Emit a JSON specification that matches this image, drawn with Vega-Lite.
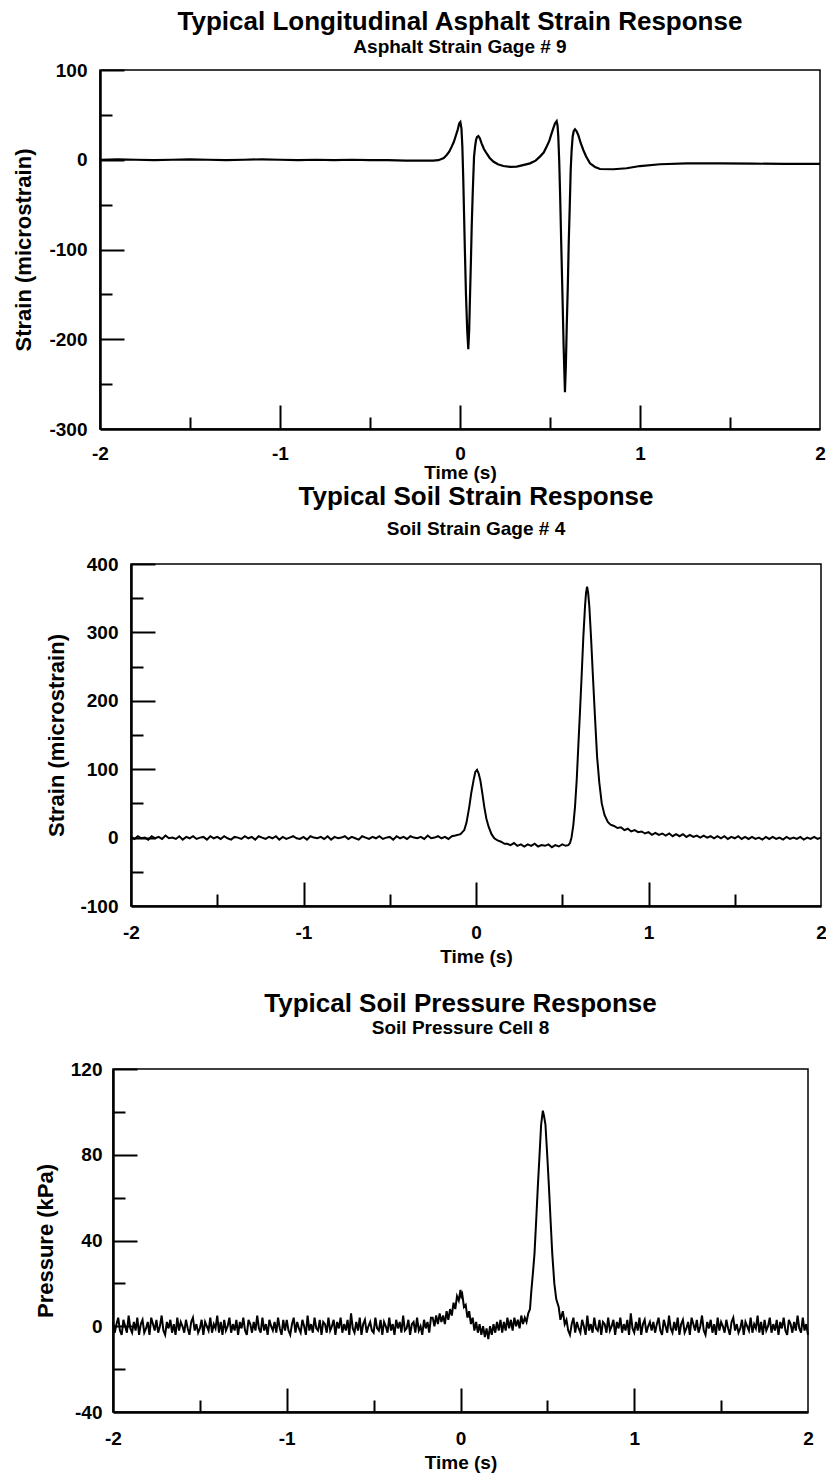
{
  "$schema": "https://vega.github.io/schema/vega-lite/v6.json",
  "padding": {"left": 0, "top": 8, "right": 0, "bottom": 0},
  "background": "white",
  "config": {
    "font": "Liberation Sans",
    "view": {"stroke": null},
    "axis": {"domainColor": "black", "domainWidth": 2.5, "tickColor": "black", "tickWidth": 2, "labelColor": "black", "labelFont": "Liberation Sans", "labelFontSize": 19, "labelFontWeight": "bold", "titleColor": "black", "titleFont": "Liberation Sans", "titleFontWeight": "bold", "titleFontSize": 19, "grid": false, "labelFlush": false, "labelOverlap": false},
    "axisY": {"titleFontSize": 22},
    "title": {"font": "Liberation Sans", "fontSize": 26, "fontWeight": "bold", "color": "black", "subtitleFont": "Liberation Sans", "subtitleFontSize": 19, "subtitleFontWeight": "bold", "subtitleColor": "black", "anchor": "middle"}
  },
  "datasets": {
    "asphalt": [
      {"t":-2,"v":0},{"t":-1.9,"v":0.5},{"t":-1.8,"v":0},{"t":-1.7,"v":-0.5},{"t":-1.6,"v":0},{"t":-1.5,"v":0.5},{"t":-1.4,"v":0},{"t":-1.3,"v":-0.5},{"t":-1.2,"v":0},{"t":-1.1,"v":0.5},{"t":-1.0,"v":0},{"t":-0.9,"v":-0.5},{"t":-0.8,"v":0},{"t":-0.7,"v":-0.5},{"t":-0.6,"v":0},{"t":-0.5,"v":-0.5},{"t":-0.4,"v":-0.5},{"t":-0.3,"v":-1},{"t":-0.2,"v":-1},{"t":-0.15,"v":-1},{"t":-0.12,"v":-0.5},{"t":-0.09,"v":2},{"t":-0.074,"v":5.3},{"t":-0.06,"v":9},{"t":-0.046,"v":14.6},{"t":-0.034,"v":20},{"t":-0.022,"v":27.6},{"t":-0.012,"v":34},{"t":-0.004,"v":40.6},{"t":0.002,"v":42},{"t":0.008,"v":35},{"t":0.013,"v":15},{"t":0.018,"v":-20},{"t":0.022,"v":-56},{"t":0.027,"v":-100},{"t":0.033,"v":-149},{"t":0.04,"v":-190},{"t":0.046,"v":-211},{"t":0.051,"v":-190},{"t":0.056,"v":-149},{"t":0.061,"v":-110},{"t":0.065,"v":-75},{"t":0.071,"v":-35},{"t":0.078,"v":3.4},{"t":0.084,"v":15},{"t":0.089,"v":22},{"t":0.095,"v":25.5},{"t":0.102,"v":26.5},{"t":0.11,"v":24},{"t":0.12,"v":18.3},{"t":0.133,"v":12},{"t":0.148,"v":7},{"t":0.165,"v":2},{"t":0.185,"v":-2},{"t":0.21,"v":-5},{"t":0.241,"v":-7},{"t":0.28,"v":-8},{"t":0.315,"v":-7.7},{"t":0.35,"v":-6},{"t":0.389,"v":-4},{"t":0.42,"v":-1},{"t":0.444,"v":3.5},{"t":0.465,"v":8},{"t":0.481,"v":14.6},{"t":0.496,"v":21},{"t":0.509,"v":29.4},{"t":0.52,"v":36},{"t":0.528,"v":40.6},{"t":0.537,"v":43},{"t":0.542,"v":38},{"t":0.546,"v":26},{"t":0.551,"v":0},{"t":0.556,"v":-37},{"t":0.562,"v":-90},{"t":0.569,"v":-149},{"t":0.576,"v":-210},{"t":0.583,"v":-259},{"t":0.588,"v":-230},{"t":0.593,"v":-186},{"t":0.599,"v":-140},{"t":0.604,"v":-93},{"t":0.61,"v":-50},{"t":0.615,"v":-11.4},{"t":0.62,"v":10},{"t":0.626,"v":26},{"t":0.632,"v":32},{"t":0.639,"v":34},{"t":0.647,"v":32},{"t":0.657,"v":27.6},{"t":0.67,"v":19},{"t":0.685,"v":10.9},{"t":0.7,"v":4},{"t":0.722,"v":-4},{"t":0.75,"v":-8},{"t":0.778,"v":-10.3},{"t":0.852,"v":-10.6},{"t":0.926,"v":-9.5},{"t":1.0,"v":-7},{"t":1.111,"v":-5},{"t":1.26,"v":-4},{"t":1.44,"v":-4},{"t":1.63,"v":-4.4},{"t":1.8,"v":-4.5},{"t":2.0,"v":-4.7}
    ],
    "soilStrain": [
      {"t":-2,"v":1},{"t":-1.98,"v":-2},{"t":-1.96,"v":2},{"t":-1.94,"v":-1},{"t":-1.92,"v":0},{"t":-1.9,"v":-3},{"t":-1.88,"v":2},{"t":-1.86,"v":-1},{"t":-1.84,"v":1},{"t":-1.82,"v":-2},
      {"t":-1.8,"v":3},{"t":-1.78,"v":-1},{"t":-1.76,"v":0},{"t":-1.74,"v":-2},{"t":-1.72,"v":2},{"t":-1.7,"v":-3},{"t":-1.68,"v":1},{"t":-1.66,"v":-1},{"t":-1.64,"v":2},{"t":-1.62,"v":-2},
      {"t":-1.6,"v":0},{"t":-1.58,"v":1},{"t":-1.56,"v":-3},{"t":-1.54,"v":2},{"t":-1.52,"v":-1},{"t":-1.5,"v":1},{"t":-1.48,"v":-2},{"t":-1.46,"v":2},{"t":-1.44,"v":-1},{"t":-1.42,"v":-3},
      {"t":-1.4,"v":1},{"t":-1.38,"v":0},{"t":-1.36,"v":-2},{"t":-1.34,"v":2},{"t":-1.32,"v":-1},{"t":-1.3,"v":1},{"t":-1.28,"v":-3},{"t":-1.26,"v":2},{"t":-1.24,"v":0},{"t":-1.22,"v":-2},
      {"t":-1.2,"v":1},{"t":-1.18,"v":-1},{"t":-1.16,"v":2},{"t":-1.14,"v":-3},{"t":-1.12,"v":1},{"t":-1.1,"v":-2},{"t":-1.08,"v":0},{"t":-1.06,"v":2},{"t":-1.04,"v":-1},{"t":-1.02,"v":-2},
      {"t":-1,"v":1},{"t":-0.98,"v":-3},{"t":-0.96,"v":2},{"t":-0.94,"v":0},{"t":-0.92,"v":-1},{"t":-0.9,"v":1},{"t":-0.88,"v":-2},{"t":-0.86,"v":2},{"t":-0.84,"v":-3},{"t":-0.82,"v":1},
      {"t":-0.8,"v":-1},{"t":-0.78,"v":0},{"t":-0.76,"v":2},{"t":-0.74,"v":-2},{"t":-0.72,"v":1},{"t":-0.7,"v":-1},{"t":-0.68,"v":-3},{"t":-0.66,"v":2},{"t":-0.64,"v":0},{"t":-0.62,"v":-2},
      {"t":-0.6,"v":1},{"t":-0.58,"v":-1},{"t":-0.56,"v":2},{"t":-0.54,"v":-2},{"t":-0.52,"v":0},{"t":-0.5,"v":1},{"t":-0.48,"v":-3},{"t":-0.46,"v":2},{"t":-0.44,"v":-1},{"t":-0.42,"v":1},
      {"t":-0.4,"v":-2},{"t":-0.38,"v":2},{"t":-0.36,"v":0},{"t":-0.34,"v":-1},{"t":-0.32,"v":1},{"t":-0.3,"v":-2},{"t":-0.28,"v":3},{"t":-0.26,"v":-1},{"t":-0.24,"v":0},{"t":-0.22,"v":2},
      {"t":-0.2,"v":-1},{"t":-0.18,"v":1},{"t":-0.16,"v":-2},{"t":-0.14,"v":2},{"t":-0.12,"v":3},
      {"t":-0.09,"v":5},{"t":-0.068,"v":11},{"t":-0.055,"v":22},{"t":-0.039,"v":45},{"t":-0.027,"v":66},{"t":-0.014,"v":84},{"t":-0.004,"v":96},{"t":0.006,"v":99},{"t":0.015,"v":94},{"t":0.025,"v":84},{"t":0.036,"v":66},{"t":0.048,"v":45},{"t":0.06,"v":28},{"t":0.073,"v":16},{"t":0.09,"v":5},{"t":0.106,"v":-1},{"t":0.125,"v":-4},{"t":0.145,"v":-6},{"t":0.165,"v":-9},
      {"t":0.18,"v":-9},{"t":0.2,"v":-11},{"t":0.22,"v":-8},{"t":0.24,"v":-12},{"t":0.26,"v":-10},{"t":0.28,"v":-13},{"t":0.3,"v":-10},{"t":0.32,"v":-12},{"t":0.34,"v":-9},{"t":0.36,"v":-13},{"t":0.38,"v":-11},{"t":0.4,"v":-12},{"t":0.42,"v":-10},{"t":0.44,"v":-14},{"t":0.46,"v":-11},{"t":0.48,"v":-13},{"t":0.5,"v":-10},{"t":0.52,"v":-12},{"t":0.535,"v":-11},{"t":0.545,"v":-8},
      {"t":0.554,"v":0.5},{"t":0.564,"v":18},{"t":0.574,"v":45},{"t":0.584,"v":85},{"t":0.593,"v":133},{"t":0.603,"v":185},{"t":0.613,"v":240},{"t":0.622,"v":292},{"t":0.632,"v":338},{"t":0.638,"v":358},{"t":0.644,"v":367},{"t":0.65,"v":358},{"t":0.657,"v":338},{"t":0.667,"v":292},{"t":0.677,"v":240},{"t":0.69,"v":175},{"t":0.702,"v":118},{"t":0.715,"v":80},{"t":0.729,"v":50},{"t":0.745,"v":33},{"t":0.764,"v":23},{"t":0.78,"v":19},
      {"t":0.8,"v":17},{"t":0.82,"v":14},{"t":0.84,"v":15},{"t":0.86,"v":11},{"t":0.88,"v":13},{"t":0.9,"v":9},{"t":0.92,"v":11},{"t":0.94,"v":8},{"t":0.96,"v":9},{"t":0.98,"v":6},
      {"t":1,"v":8},{"t":1.02,"v":4},{"t":1.04,"v":7},{"t":1.06,"v":4},{"t":1.08,"v":6},{"t":1.1,"v":3},{"t":1.12,"v":6},{"t":1.14,"v":2},{"t":1.16,"v":5},{"t":1.18,"v":2},
      {"t":1.2,"v":5},{"t":1.22,"v":1},{"t":1.24,"v":4},{"t":1.26,"v":1},{"t":1.28,"v":3},{"t":1.3,"v":0},{"t":1.32,"v":3},{"t":1.34,"v":0},{"t":1.36,"v":2},{"t":1.38,"v":-1},
      {"t":1.4,"v":2},{"t":1.42,"v":-1},{"t":1.44,"v":2},{"t":1.46,"v":-2},{"t":1.48,"v":1},{"t":1.5,"v":-1},{"t":1.52,"v":2},{"t":1.54,"v":-2},{"t":1.56,"v":1},{"t":1.58,"v":-2},
      {"t":1.6,"v":1},{"t":1.62,"v":-2},{"t":1.64,"v":0},{"t":1.66,"v":-3},{"t":1.68,"v":1},{"t":1.7,"v":-2},{"t":1.72,"v":1},{"t":1.74,"v":-2},{"t":1.76,"v":0},{"t":1.78,"v":-3},
      {"t":1.8,"v":1},{"t":1.82,"v":-2},{"t":1.84,"v":0},{"t":1.86,"v":-2},{"t":1.88,"v":1},{"t":1.9,"v":-3},{"t":1.92,"v":0},{"t":1.94,"v":-2},{"t":1.96,"v":1},{"t":1.98,"v":-2},{"t":2,"v":0}
    ],
    "pressure": [
      {"t":-2,"v":2},{"t":-1.99,"v":-3},{"t":-1.98,"v":1},{"t":-1.97,"v":4},{"t":-1.96,"v":-2},{"t":-1.95,"v":-4},{"t":-1.94,"v":3},{"t":-1.93,"v":0},{"t":-1.92,"v":-3},{"t":-1.91,"v":5},
      {"t":-1.9,"v":-1},{"t":-1.89,"v":-3},{"t":-1.88,"v":2},{"t":-1.87,"v":-2},{"t":-1.86,"v":4},{"t":-1.85,"v":-4},{"t":-1.84,"v":1},{"t":-1.83,"v":3},{"t":-1.82,"v":-3},{"t":-1.81,"v":-1},
      {"t":-1.8,"v":2},{"t":-1.79,"v":-4},{"t":-1.78,"v":4},{"t":-1.77,"v":1},{"t":-1.76,"v":-2},{"t":-1.75,"v":3},{"t":-1.74,"v":-3},{"t":-1.73,"v":0},{"t":-1.72,"v":5},{"t":-1.71,"v":-2},
      {"t":-1.7,"v":-4},{"t":-1.69,"v":2},{"t":-1.68,"v":-1},{"t":-1.67,"v":3},{"t":-1.66,"v":-3},{"t":-1.65,"v":1},{"t":-1.64,"v":-4},{"t":-1.63,"v":4},{"t":-1.62,"v":-2},{"t":-1.61,"v":2},
      {"t":-1.6,"v":0},{"t":-1.59,"v":-3},{"t":-1.58,"v":3},{"t":-1.57,"v":-1},{"t":-1.56,"v":-4},{"t":-1.55,"v":2},{"t":-1.54,"v":4},{"t":-1.53,"v":-2},{"t":-1.52,"v":1},{"t":-1.51,"v":-3},
      {"t":-1.5,"v":-1},{"t":-1.49,"v":3},{"t":-1.48,"v":-4},{"t":-1.47,"v":2},{"t":-1.46,"v":0},{"t":-1.45,"v":-2},{"t":-1.44,"v":4},{"t":-1.43,"v":-3},{"t":-1.42,"v":1},{"t":-1.41,"v":-1},
      {"t":-1.4,"v":5},{"t":-1.39,"v":-3},{"t":-1.38,"v":2},{"t":-1.37,"v":-4},{"t":-1.36,"v":3},{"t":-1.35,"v":-2},{"t":-1.34,"v":0},{"t":-1.33,"v":4},{"t":-1.32,"v":-3},{"t":-1.31,"v":1},
      {"t":-1.3,"v":-2},{"t":-1.29,"v":3},{"t":-1.28,"v":-4},{"t":-1.27,"v":2},{"t":-1.26,"v":-1},{"t":-1.25,"v":4},{"t":-1.24,"v":-2},{"t":-1.23,"v":-4},{"t":-1.22,"v":3},{"t":-1.21,"v":1},
      {"t":-1.2,"v":-3},{"t":-1.19,"v":2},{"t":-1.18,"v":-2},{"t":-1.17,"v":5},{"t":-1.16,"v":-1},{"t":-1.15,"v":-3},{"t":-1.14,"v":4},{"t":-1.13,"v":-2},{"t":-1.12,"v":1},{"t":-1.11,"v":-4},
      {"t":-1.1,"v":3},{"t":-1.09,"v":0},{"t":-1.08,"v":-2},{"t":-1.07,"v":2},{"t":-1.06,"v":-3},{"t":-1.05,"v":4},{"t":-1.04,"v":-1},{"t":-1.03,"v":-4},{"t":-1.02,"v":3},{"t":-1.01,"v":-2},
      {"t":-1,"v":3},{"t":-0.99,"v":-2},{"t":-0.98,"v":-4},{"t":-0.97,"v":1},{"t":-0.96,"v":4},{"t":-0.95,"v":-3},{"t":-0.94,"v":2},{"t":-0.93,"v":-1},{"t":-0.92,"v":-3},{"t":-0.91,"v":3},
      {"t":-0.9,"v":0},{"t":-0.89,"v":-4},{"t":-0.88,"v":5},{"t":-0.87,"v":-2},{"t":-0.86,"v":1},{"t":-0.85,"v":-3},{"t":-0.84,"v":4},{"t":-0.83,"v":-1},{"t":-0.82,"v":-2},{"t":-0.81,"v":3},
      {"t":-0.8,"v":-4},{"t":-0.79,"v":2},{"t":-0.78,"v":1},{"t":-0.77,"v":-3},{"t":-0.76,"v":4},{"t":-0.75,"v":-2},{"t":-0.74,"v":0},{"t":-0.73,"v":3},{"t":-0.72,"v":-4},{"t":-0.71,"v":2},
      {"t":-0.7,"v":-1},{"t":-0.69,"v":4},{"t":-0.68,"v":-3},{"t":-0.67,"v":1},{"t":-0.66,"v":-2},{"t":-0.65,"v":3},{"t":-0.64,"v":-4},{"t":-0.63,"v":6},{"t":-0.62,"v":-1},{"t":-0.61,"v":-3},
      {"t":-0.6,"v":2},{"t":-0.59,"v":-2},{"t":-0.58,"v":4},{"t":-0.57,"v":-4},{"t":-0.56,"v":1},{"t":-0.55,"v":3},{"t":-0.54,"v":-3},{"t":-0.53,"v":0},{"t":-0.52,"v":2},{"t":-0.51,"v":-2},
      {"t":-0.5,"v":-3},{"t":-0.49,"v":4},{"t":-0.48,"v":-1},{"t":-0.47,"v":-2},{"t":-0.46,"v":3},{"t":-0.45,"v":-4},{"t":-0.44,"v":2},{"t":-0.43,"v":0},{"t":-0.42,"v":-3},{"t":-0.41,"v":4},
      {"t":-0.4,"v":-2},{"t":-0.39,"v":1},{"t":-0.38,"v":-4},{"t":-0.37,"v":3},{"t":-0.36,"v":-1},{"t":-0.35,"v":2},{"t":-0.34,"v":-3},{"t":-0.33,"v":5},{"t":-0.32,"v":-2},{"t":-0.31,"v":-1},
      {"t":-0.3,"v":3},{"t":-0.29,"v":-4},{"t":-0.28,"v":1},{"t":-0.27,"v":2},{"t":-0.26,"v":-3},{"t":-0.25,"v":4},{"t":-0.24,"v":-2},{"t":-0.23,"v":0},{"t":-0.22,"v":-4},{"t":-0.21,"v":3},
      {"t":-0.2,"v":-1},{"t":-0.19,"v":2},{"t":-0.18,"v":-3},{"t":-0.17,"v":4},
      {"t":-0.16,"v":4},{"t":-0.15,"v":0},{"t":-0.14,"v":5},{"t":-0.13,"v":1},{"t":-0.12,"v":6},{"t":-0.11,"v":2},{"t":-0.1,"v":5},{"t":-0.09,"v":1},{"t":-0.08,"v":7},{"t":-0.07,"v":3},{"t":-0.06,"v":8},{"t":-0.05,"v":5},{"t":-0.04,"v":11},{"t":-0.03,"v":8},{"t":-0.02,"v":14},{"t":-0.01,"v":12},{"t":0,"v":17},{"t":0.005,"v":14},{"t":0.01,"v":15},{"t":0.02,"v":9},{"t":0.03,"v":10},{"t":0.04,"v":4},{"t":0.05,"v":7},{"t":0.06,"v":1},{"t":0.07,"v":4},{"t":0.08,"v":-2},{"t":0.09,"v":2},{"t":0.1,"v":-3},{"t":0.11,"v":1},{"t":0.12,"v":-4},{"t":0.13,"v":0},{"t":0.14,"v":-5},{"t":0.15,"v":-1},{"t":0.16,"v":-6},{"t":0.17,"v":0},{"t":0.18,"v":-4},{"t":0.19,"v":1},{"t":0.2,"v":-3},{"t":0.21,"v":2},{"t":0.22,"v":-2},{"t":0.23,"v":3},{"t":0.24,"v":-3},{"t":0.25,"v":2},{"t":0.26,"v":-2},{"t":0.27,"v":4},{"t":0.28,"v":-1},{"t":0.29,"v":3},{"t":0.3,"v":-2},{"t":0.31,"v":4},{"t":0.32,"v":0},{"t":0.33,"v":3},{"t":0.34,"v":-1},{"t":0.35,"v":5},{"t":0.36,"v":1},{"t":0.37,"v":4},{"t":0.38,"v":2},{"t":0.39,"v":6},{"t":0.4,"v":8},
      {"t":0.407,"v":15.8},{"t":0.417,"v":25},{"t":0.426,"v":34},{"t":0.436,"v":50},{"t":0.445,"v":65},{"t":0.455,"v":80},{"t":0.464,"v":94},{"t":0.474,"v":100.6},{"t":0.481,"v":98},{"t":0.489,"v":94},{"t":0.499,"v":80},{"t":0.509,"v":65},{"t":0.518,"v":50},{"t":0.528,"v":34},{"t":0.54,"v":20},{"t":0.551,"v":12.7},{"t":0.565,"v":9},{"t":0.575,"v":3},{"t":0.589,"v":7},{"t":0.6,"v":1},
      {"t":0.61,"v":3},{"t":0.62,"v":-2},{"t":0.63,"v":-4},{"t":0.64,"v":1},{"t":0.65,"v":4},{"t":0.66,"v":-3},{"t":0.67,"v":2},{"t":0.68,"v":-1},{"t":0.69,"v":-3},{"t":0.7,"v":3},
      {"t":0.71,"v":0},{"t":0.72,"v":-4},{"t":0.73,"v":5},{"t":0.74,"v":-2},{"t":0.75,"v":1},{"t":0.76,"v":-3},{"t":0.77,"v":4},{"t":0.78,"v":-1},{"t":0.79,"v":-2},{"t":0.8,"v":3},
      {"t":0.81,"v":-4},{"t":0.82,"v":2},{"t":0.83,"v":1},{"t":0.84,"v":-3},{"t":0.85,"v":4},{"t":0.86,"v":-2},{"t":0.87,"v":0},{"t":0.88,"v":3},{"t":0.89,"v":-4},{"t":0.9,"v":2},
      {"t":0.91,"v":-1},{"t":0.92,"v":4},{"t":0.93,"v":-3},{"t":0.94,"v":1},{"t":0.95,"v":-2},{"t":0.96,"v":3},{"t":0.97,"v":-4},{"t":0.98,"v":6},{"t":0.99,"v":-1},{"t":1,"v":-3},
      {"t":1.01,"v":2},{"t":1.02,"v":-2},{"t":1.03,"v":4},{"t":1.04,"v":-4},{"t":1.05,"v":1},{"t":1.06,"v":3},{"t":1.07,"v":-3},{"t":1.08,"v":0},{"t":1.09,"v":2},{"t":1.1,"v":-2},
      {"t":1.11,"v":2},{"t":1.12,"v":-3},{"t":1.13,"v":1},{"t":1.14,"v":4},{"t":1.15,"v":-2},{"t":1.16,"v":-4},{"t":1.17,"v":3},{"t":1.18,"v":0},{"t":1.19,"v":-3},{"t":1.2,"v":5},
      {"t":1.21,"v":-1},{"t":1.22,"v":-3},{"t":1.23,"v":2},{"t":1.24,"v":-2},{"t":1.25,"v":4},{"t":1.26,"v":-4},{"t":1.27,"v":1},{"t":1.28,"v":3},{"t":1.29,"v":-3},{"t":1.3,"v":-1},
      {"t":1.31,"v":2},{"t":1.32,"v":-4},{"t":1.33,"v":4},{"t":1.34,"v":1},{"t":1.35,"v":-2},{"t":1.36,"v":3},{"t":1.37,"v":-3},{"t":1.38,"v":0},{"t":1.39,"v":5},{"t":1.4,"v":-2},
      {"t":1.41,"v":-4},{"t":1.42,"v":2},{"t":1.43,"v":-1},{"t":1.44,"v":3},{"t":1.45,"v":-3},{"t":1.46,"v":1},{"t":1.47,"v":-4},{"t":1.48,"v":4},{"t":1.49,"v":-2},{"t":1.5,"v":2},
      {"t":1.51,"v":0},{"t":1.52,"v":-3},{"t":1.53,"v":3},{"t":1.54,"v":-1},{"t":1.55,"v":-4},{"t":1.56,"v":2},{"t":1.57,"v":4},{"t":1.58,"v":-2},{"t":1.59,"v":1},{"t":1.6,"v":-3},
      {"t":1.61,"v":-1},{"t":1.62,"v":3},{"t":1.63,"v":-4},{"t":1.64,"v":2},{"t":1.65,"v":0},{"t":1.66,"v":-2},{"t":1.67,"v":4},{"t":1.68,"v":-3},{"t":1.69,"v":1},{"t":1.7,"v":-1},
      {"t":1.71,"v":5},{"t":1.72,"v":-3},{"t":1.73,"v":2},{"t":1.74,"v":-4},{"t":1.75,"v":3},{"t":1.76,"v":-2},{"t":1.77,"v":0},{"t":1.78,"v":4},{"t":1.79,"v":-3},{"t":1.8,"v":1},
      {"t":1.81,"v":-2},{"t":1.82,"v":3},{"t":1.83,"v":-4},{"t":1.84,"v":2},{"t":1.85,"v":-1},{"t":1.86,"v":4},{"t":1.87,"v":-2},{"t":1.88,"v":-4},{"t":1.89,"v":3},{"t":1.9,"v":1},
      {"t":1.91,"v":-3},{"t":1.92,"v":2},{"t":1.93,"v":-2},{"t":1.94,"v":5},{"t":1.95,"v":-1},{"t":1.96,"v":-3},{"t":1.97,"v":4},{"t":1.98,"v":-2},{"t":1.99,"v":1},{"t":2,"v":-4}
    ]
  },
  "vconcat": [
    {
      "vconcat": [
        {
          "hconcat": [
            {"width": 12, "height": 10, "data": {"values": [{"t": 0}]}, "mark": {"type": "point", "opacity": 0}, "view": {"stroke": null}},
            {
              "width": 720, "height": 359,
              "title": {"text": "Typical Longitudinal Asphalt Strain Response", "subtitle": "Asphalt Strain Gage # 9", "offset": 4, "subtitlePadding": 3},
              "data": {"name": "asphalt"},
              "view": {"stroke": "black", "strokeWidth": 1.5},
              "resolve": {"axis": {"x": "independent", "y": "independent"}},
              "layer": [
                {"mark": {"type": "line", "color": "black", "strokeWidth": 2.2},
                 "encoding": {
                   "x": {"field": "t", "type": "quantitative", "scale": {"domain": [-2, 2], "nice": false}, "axis": {"orient": "bottom", "title": "Time (s)", "values": [-2, -1, 0, 1, 2], "ticks": false, "labelPadding": 15, "titlePadding": 0, "labelExpr": "datum.value + ''"}},
                   "y": {"field": "v", "type": "quantitative", "scale": {"domain": [-300, 100], "nice": false, "zero": false}, "axis": {"orient": "left", "title": "Strain (microstrain)", "values": [-300, -200, -100, 0, 100], "ticks": false, "labelPadding": 13, "titlePadding": 13, "labelExpr": "datum.value + ''"}}
                 }},
                {"mark": {"type": "point", "opacity": 0},
                 "encoding": {
                   "x": {"field": "t", "type": "quantitative", "axis": {"orient": "bottom", "values": [-1, 0, 1], "tickSize": -24, "labels": false, "domain": false, "title": null}},
                   "y": {"field": "v", "type": "quantitative", "axis": {"orient": "left", "values": [-200, -100, 0, 100], "tickSize": -24, "labels": false, "domain": false, "title": null}}
                 }},
                {"mark": {"type": "point", "opacity": 0},
                 "encoding": {
                   "x": {"field": "t", "type": "quantitative", "axis": {"orient": "bottom", "values": [-1.5, -0.5, 0.5, 1.5], "tickSize": -12, "labels": false, "domain": false, "title": null}},
                   "y": {"field": "v", "type": "quantitative", "axis": {"orient": "left", "values": [-250, -150, -50, 50], "tickSize": -12, "labels": false, "domain": false, "title": null}}
                 }}
              ]
            }
          ],
          "spacing": 0
        },
        {
          "hconcat": [
            {"width": 45, "height": 10, "data": {"values": [{"t": 0}]}, "mark": {"type": "point", "opacity": 0}, "view": {"stroke": null}},
            {
              "width": 690, "height": 342,
              "title": {"text": "Typical Soil Strain Response", "subtitle": "Soil Strain Gage # 4", "offset": 16, "subtitlePadding": 10},
              "data": {"name": "soilStrain"},
              "view": {"stroke": "black", "strokeWidth": 1.5},
              "resolve": {"axis": {"x": "independent", "y": "independent"}},
              "layer": [
                {"mark": {"type": "line", "color": "black", "strokeWidth": 2},
                 "encoding": {
                   "x": {"field": "t", "type": "quantitative", "scale": {"domain": [-2, 2], "nice": false}, "axis": {"orient": "bottom", "title": "Time (s)", "values": [-2, -1, 0, 1, 2], "ticks": false, "labelPadding": 17, "titlePadding": 5, "labelExpr": "datum.value + ''"}},
                   "y": {"field": "v", "type": "quantitative", "scale": {"domain": [-100, 400], "nice": false, "zero": false}, "axis": {"orient": "left", "title": "Strain (microstrain)", "values": [-100, 0, 100, 200, 300, 400], "ticks": false, "labelPadding": 13, "titlePadding": 11, "labelExpr": "datum.value + ''"}}
                 }},
                {"mark": {"type": "point", "opacity": 0},
                 "encoding": {
                   "x": {"field": "t", "type": "quantitative", "axis": {"orient": "bottom", "values": [-1, 0, 1], "tickSize": -24, "labels": false, "domain": false, "title": null}},
                   "y": {"field": "v", "type": "quantitative", "axis": {"orient": "left", "values": [0, 100, 200, 300, 400], "tickSize": -24, "labels": false, "domain": false, "title": null}}
                 }},
                {"mark": {"type": "point", "opacity": 0},
                 "encoding": {
                   "x": {"field": "t", "type": "quantitative", "axis": {"orient": "bottom", "values": [-1.5, -0.5, 0.5, 1.5], "tickSize": -12, "labels": false, "domain": false, "title": null}},
                   "y": {"field": "v", "type": "quantitative", "axis": {"orient": "left", "values": [-50, 50, 150, 250, 350], "tickSize": -12, "labels": false, "domain": false, "title": null}}
                 }}
              ]
            }
          ],
          "spacing": 0
        }
      ],
      "spacing": 0
    },
    {
      "hconcat": [
        {"width": 33, "height": 10, "data": {"values": [{"t": 0}]}, "mark": {"type": "point", "opacity": 0}, "view": {"stroke": null}},
        {
          "width": 695, "height": 343,
          "title": {"text": "Typical Soil Pressure Response", "subtitle": "Soil Pressure Cell 8", "offset": 22, "subtitlePadding": 2},
          "data": {"name": "pressure"},
          "view": {"stroke": "black", "strokeWidth": 1.5},
          "resolve": {"axis": {"x": "independent", "y": "independent"}},
          "layer": [
            {"mark": {"type": "line", "color": "black", "strokeWidth": 2},
             "encoding": {
               "x": {"field": "t", "type": "quantitative", "scale": {"domain": [-2, 2], "nice": false}, "axis": {"orient": "bottom", "title": "Time (s)", "values": [-2, -1, 0, 1, 2], "ticks": false, "labelPadding": 17, "titlePadding": 5, "labelExpr": "datum.value + ''"}},
               "y": {"field": "v", "type": "quantitative", "scale": {"domain": [-40, 120], "nice": false, "zero": false}, "axis": {"orient": "left", "title": "Pressure (kPa)", "values": [-40, 0, 40, 80, 120], "ticks": false, "labelPadding": 11, "titlePadding": 13, "labelExpr": "datum.value + ''"}}
             }},
            {"mark": {"type": "point", "opacity": 0},
             "encoding": {
               "x": {"field": "t", "type": "quantitative", "axis": {"orient": "bottom", "values": [-1, 0, 1], "tickSize": -24, "labels": false, "domain": false, "title": null}},
               "y": {"field": "v", "type": "quantitative", "axis": {"orient": "left", "values": [0, 40, 80, 120], "tickSize": -24, "labels": false, "domain": false, "title": null}}
             }},
            {"mark": {"type": "point", "opacity": 0},
             "encoding": {
               "x": {"field": "t", "type": "quantitative", "axis": {"orient": "bottom", "values": [-1.5, -0.5, 0.5, 1.5], "tickSize": -12, "labels": false, "domain": false, "title": null}},
               "y": {"field": "v", "type": "quantitative", "axis": {"orient": "left", "values": [-20, 20, 60, 100], "tickSize": -12, "labels": false, "domain": false, "title": null}}
             }}
          ]
        }
      ],
      "spacing": 0
    }
  ],
  "spacing": 23
}
